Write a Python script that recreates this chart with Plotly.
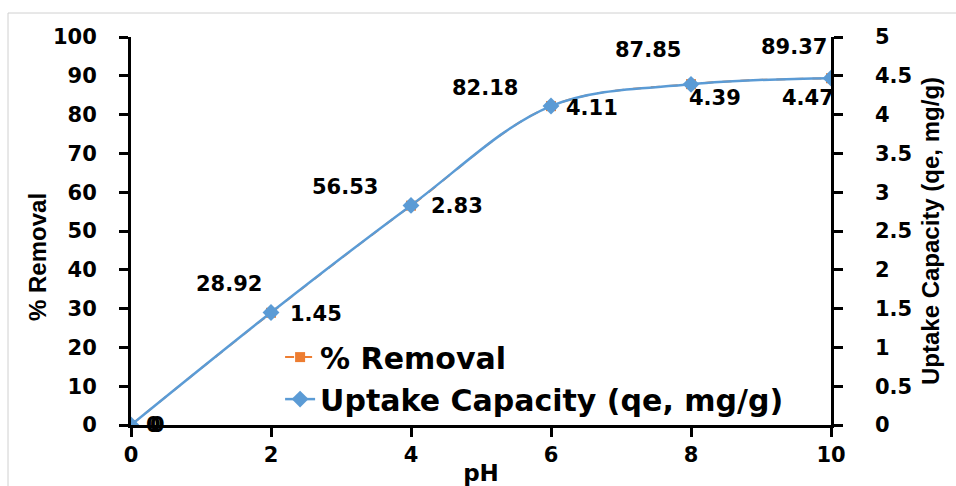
import plotly.graph_objects as go

ph = [0, 2, 4, 6, 8, 10]
removal = [0, 28.92, 56.53, 82.18, 87.85, 89.37]
uptake = [0, 1.45, 2.83, 4.11, 4.39, 4.47]

left_ticks = [0, 10, 20, 30, 40, 50, 60, 70, 80, 90, 100]
right_ticks = [0, 0.5, 1, 1.5, 2, 2.5, 3, 3.5, 4, 4.5, 5]
right_tick_text = ["0", "0.5", "1", "1.5", "2", "2.5", "3", "3.5", "4", "4.5", "5"]
x_ticks = [0, 2, 4, 6, 8, 10]

# label offsets in pixels (style only)
rem_dx = [22, -42, -66, -66, -43, -37]
rem_dy = [0, 29, 19, 18, 34, 31]
upt_dx = [26, 45, 46, 41, 24, -23]
upt_dy = [0, -2, -1, -2, -14, -20]

BLUE = "#5B9BD5"
ORANGE = "#ED7D31"
FONT = "DejaVu Sans"
TITLEFONT = "Liberation Sans"
PAD = "\u2002\u2005"  # visual gap between right axis and its labels

fig = go.Figure()
fig.add_trace(go.Scatter(
    x=ph, y=removal, name="% Removal", mode="lines+markers",
    line=dict(color=ORANGE, width=2, dash="dash", shape="spline"),
    marker=dict(symbol="square", size=10, color=ORANGE),
    yaxis="y",
))
fig.add_trace(go.Scatter(
    x=ph, y=uptake, name="Uptake Capacity (qe, mg/g)", mode="lines+markers",
    line=dict(color=BLUE, width=2.5, shape="spline"),
    marker=dict(symbol="diamond", size=13, color=BLUE),
    yaxis="y2",
))

ann = []
for xv, yv, dx, dy in zip(ph, removal, rem_dx, rem_dy):
    ann.append(dict(x=xv, y=yv, xref="x", yref="y", text=f"{yv:g}", showarrow=False,
                    xshift=dx, yshift=dy, font=dict(family=FONT, size=21, color="black", weight="bold")))
for xv, yv, dx, dy in zip(ph, uptake, upt_dx, upt_dy):
    ann.append(dict(x=xv, y=yv, xref="x", yref="y2", text=f"{yv:g}", showarrow=False,
                    xshift=dx, yshift=dy, font=dict(family=FONT, size=21, color="black", weight="bold")))

# left axis title, placed as in the reference (slightly below centre)
ann.append(dict(text="% Removal", xref="paper", yref="paper", x=0, y=0.5,
                xanchor="center", yanchor="middle",
                xshift=-94, yshift=-26, textangle=-90, showarrow=False,
                font=dict(family=TITLEFONT, size=24, color="black", weight="bold")))

fig.update_layout(
    width=956, height=486,
    margin=dict(l=131, r=125, t=37, b=61, autoexpand=False),
    paper_bgcolor="white", plot_bgcolor="white",
    showlegend=True,
    legend=dict(x=0.213, y=0.242, xanchor="left", yanchor="top",
                bgcolor="rgba(0,0,0,0)", borderwidth=0,
                font=dict(family=FONT, size=30, color="black", weight="bold"),
                tracegroupgap=0),
    xaxis=dict(range=[0, 10], tickvals=x_ticks, showgrid=False, zeroline=False,
               automargin=False,
               showline=True, linecolor="black", linewidth=3,
               ticks="outside", ticklen=9, tickwidth=2.5, tickcolor="black",
               tickfont=dict(family=FONT, size=21, color="black", weight="bold"),
               ticklabelstandoff=0,
               title=dict(text="pH", standoff=8,
                          font=dict(family=FONT, size=23, color="black", weight="bold"))),
    yaxis=dict(range=[0, 100], tickvals=left_ticks, showgrid=False, zeroline=False,
               automargin=False,
               showline=True, linecolor="black", linewidth=3,
               ticks="outside", ticklen=9, tickwidth=2.5, tickcolor="black",
               tickfont=dict(family=FONT, size=21, color="black", weight="bold"),
               ticklabelstandoff=18),
    yaxis2=dict(range=[0, 5], tickvals=right_ticks,
                ticktext=[PAD + t for t in right_tick_text],
                overlaying="y", side="right", showgrid=False, zeroline=False,
                automargin=False,
                showline=True, linecolor="black", linewidth=3,
                ticks="outside", ticklen=9, tickwidth=2.5, tickcolor="black",
                tickfont=dict(family=FONT, size=21, color="black", weight="bold"),
                ticklabelstandoff=12,
                title=dict(text="Uptake Capacity (qe, mg/g)", standoff=12,
                           font=dict(family=TITLEFONT, size=24, color="black", weight="bold"))),
    annotations=ann,
    shapes=[dict(type="rect", xref="paper", yref="paper",
                 x0=(8 - 131) / 700, x1=(970 - 131) / 700,
                 y0=(425 - 500) / 388, y1=(425 - 13) / 388,
                 line=dict(color="#d0d0d0", width=1), fillcolor="rgba(0,0,0,0)",
                 layer="below")],
)

fig.write_html("out.html")
